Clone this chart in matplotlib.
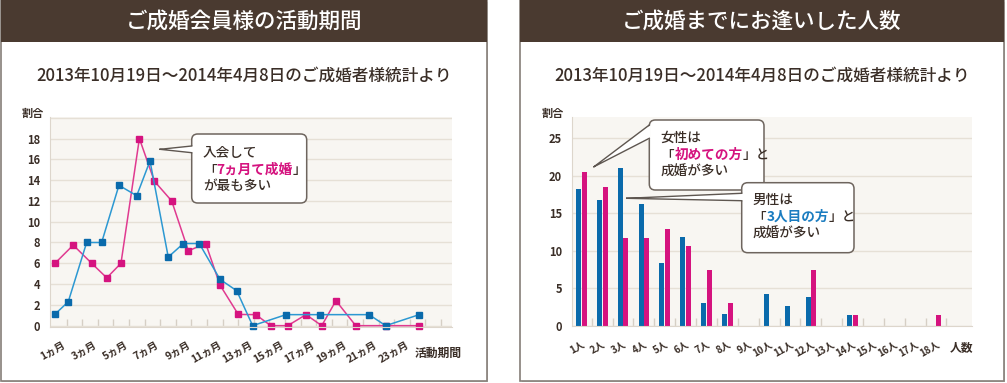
import matplotlib
matplotlib.use("Agg")
import matplotlib.pyplot as plt
from matplotlib.patches import Rectangle, FancyBboxPatch, Polygon
import numpy as np

plt.rcParams['font.family'] = ['Noto Sans CJK JP', 'DejaVu Sans']

# --- data (left: months, right: number of people met) ---
pink_x = [0.55, 1.72, 2.9, 3.87, 4.78, 5.96, 6.92, 8.03, 9.1, 10.21, 11.13, 12.3,
          13.42, 14.38, 15.47, 16.64, 17.65, 18.56, 19.83, 21.75, 23.9]
pink_y = [6.0, 7.75, 6.0, 4.6, 6.0, 18.0, 13.9, 12.0, 7.2, 7.9, 3.9, 1.08,
          1.06, 0, 0, 1.06, 0, 2.4, 0, 0, 0]
blue_x = [0.55, 1.4, 2.58, 3.54, 4.65, 5.79, 6.64, 7.81, 8.78, 9.8, 11.13, 12.2,
          13.22, 15.36, 17.54, 20.68, 21.75, 23.9]
blue_y = [1.1, 2.3, 8.0, 8.0, 13.5, 12.5, 15.85, 6.6, 7.9, 7.9, 4.45, 3.36,
          0, 1.06, 1.06, 1.06, 0, 1.06]
month_labels = [f"{m}ヵ月" for m in range(1, 24, 2)]

people = [f"{n}人" for n in range(1, 19)]
men = [18.3, 16.8, 21.1, 16.3, 8.4, 11.8, 3.0, 1.6, 0, 4.2, 2.6, 3.8, 0, 1.5, 0, 0, 0, 0]
women = [20.5, 18.5, 11.7, 11.7, 12.9, 10.6, 7.5, 3.0, 0, 0, 0, 7.4, 0, 1.5, 0, 0, 0, 1.5]

titles = ["ご成婚会員様の活動期間", "ご成婚までにお逢いした人数"]
subtitle = "2013年10月19日～2014年4月8日のご成婚者様統計より"

BROWN = '#4a3a30'
TXT = '#3a2e27'
BLUE = '#0a6aab'
BLUE_L = '#2c98d2'
PINK = '#d5137f'
PINK_L = '#e03a90'
PLOTBG = '#f8f6f2'
GRID = '#e6e0d6'

W, H = 1007, 383
def rect(x0, y0, x1, y1):
    return [x0 / W, 1 - y1 / H, (x1 - x0) / W, (y1 - y0) / H]

fig = plt.figure(figsize=(W / 100, H / 100), dpi=100)
bg = fig.add_axes([0, 0, 1, 1])
bg.set_xlim(0, W); bg.set_ylim(H, 0); bg.axis('off')

# panels
for x0, x1, t in [(0.8, 486.5, titles[0]), (520, 1003.5, titles[1])]:
    bg.add_patch(Rectangle((x0 + 1.5, 1.5), x1 - x0, 380.5, fc='#c9c4bf', ec='none'))
    bg.add_patch(Rectangle((x0, 0), x1 - x0, 380.5, fc='white', ec='#857e78', lw=1.2))
    bg.add_patch(Rectangle((x0, 0), x1 - x0, 41.7, fc=BROWN, ec='none'))
    cx = (x0 + x1) / 2
    bg.text(cx, 22, t, color='white', fontsize=15.5, fontweight='medium', ha='center', va='center')
    bg.text(cx, 76, subtitle, color=TXT, fontsize=12, fontweight='medium', ha='center', va='center')

bg.text(22, 113, "割合", color=TXT, fontsize=8, fontweight='bold', va='center')
bg.text(542, 113, "割合", color=TXT, fontsize=8, fontweight='bold', va='center')
bg.text(415, 353, "活動期間", color=TXT, fontsize=8.5, fontweight='bold', va='center')
bg.text(950, 348, "人数", color=TXT, fontsize=8.5, fontweight='bold', va='center')

for lx, ly in [(361, 143), (885, 143)]:
    bg.plot(lx, ly, marker='s', ms=5, color=BLUE, ls='none')
    bg.text(lx + 10, ly, "男性割合", color=TXT, fontsize=9.5, fontweight='medium', va='center')
    bg.plot(lx, ly + 19.5, marker='s', ms=5, color=PINK, ls='none')
    bg.text(lx + 10, ly + 19.5, "女性割合", color=TXT, fontsize=9.5, fontweight='medium', va='center')

def style(ax):
    ax.set_facecolor(PLOTBG)
    for s in ['top', 'right']:
        ax.spines[s].set_visible(False)
    for s in ['left', 'bottom']:
        ax.spines[s].set_color('#ddd6cc')
    ax.yaxis.grid(True, color=GRID, lw=1)
    ax.set_axisbelow(True)
    ax.tick_params(which='major', length=0, colors=TXT)
    ax.tick_params(which='minor', direction='in', length=6, color='#d6cfc5', width=1)
    ax.tick_params(axis='y', pad=7, labelsize=8)

# left line chart
ax1 = fig.add_axes(rect(50, 116.7, 452, 326.7))
style(ax1)
ax1.plot(pink_x, pink_y, color=PINK_L, lw=1.1, marker='s', ms=5, mfc=PINK, mec=PINK, clip_on=False)
ax1.plot(blue_x, blue_y, color=BLUE_L, lw=1.1, marker='s', ms=5, mfc=BLUE, mec=BLUE, clip_on=False)
ax1.set_xlim(0.23, 26.0)
ax1.set_ylim(-0.1, 20.1)
ax1.set_yticks(range(0, 21, 2), [str(v) for v in range(0, 19, 2)] + [""])
ax1.set_xticks(range(1, 24, 2), month_labels, rotation=30, ha='right', rotation_mode='anchor')
ax1.set_xticks(np.arange(1.3, 25.4, 1), minor=True)
ax1.tick_params(axis='x', which='major', pad=9, labelsize=7.5)
for lab in ax1.get_xticklabels() + ax1.get_yticklabels():
    lab.set_fontweight('bold')

# right bar chart
ax2 = fig.add_axes(rect(571.7, 116.7, 971.7, 326))
style(ax2)
pos = np.arange(len(people))
ax2.bar(pos - 0.134, men, width=0.24, color=BLUE)
ax2.bar(pos + 0.139, women, width=0.24, color=PINK)
ax2.set_xlim(-0.46, 18.71)
ax2.set_ylim(0, 27.9)
ax2.set_yticks(range(0, 26, 5))
ax2.set_xticks(pos, people, rotation=30, ha='right', rotation_mode='anchor')
ax2.set_xticks(pos + 0.5, minor=True)
ax2.tick_params(axis='x', which='major', pad=9, labelsize=7)
for lab in ax2.get_xticklabels() + ax2.get_yticklabels():
    lab.set_fontweight('bold')

# callouts
ov = fig.add_axes([0, 0, 1, 1])
ov.set_xlim(0, W); ov.set_ylim(H, 0); ov.axis('off')
r = fig.canvas.get_renderer()

def rich(x, y, parts, z, size=9.8):
    for s, c, w in parts:
        t = ov.text(x, y, s, color=c, fontsize=size, fontweight=w, va='center', ha='left', zorder=z)
        x += t.get_window_extent(renderer=r).width

def callout(x0, y0, x1, y1, tip, b0, b1, z):
    ov.add_patch(FancyBboxPatch((x0, y0), x1 - x0, y1 - y0,
                                boxstyle='round,pad=0,rounding_size=6',
                                fc='white', ec='#6e655e', lw=1.1, zorder=z))
    ov.add_patch(Polygon([tip, (x0 + 1.5, b0), (x0 + 1.5, b1)], closed=True,
                         fc='white', ec='none', zorder=z + 0.1))
    ov.plot([tip[0], x0, None, tip[0], x0], [tip[1], b0, None, tip[1], b1],
            color='#5e5650', lw=1, zorder=z + 0.2)

M = 'medium'
callout(191.7, 134, 306.7, 203, (160, 149.3), 146, 152.7, 5)
rich(203, 153, [("入会して", TXT, M)], 5.5)
rich(203, 170, [("「", TXT, M), ("7ヵ月て成婚", PINK, 'bold'), ("」", TXT, M)], 5.5)
rich(203, 186, [("が最も多い", TXT, M)], 5.5)

callout(649.3, 120, 764, 190, (594, 166.7), 125, 138.3, 5)
rich(660.7, 138, [("女性は", TXT, M)], 5.5)
rich(660.7, 155, [("「", TXT, M), ("初めての方", PINK, 'bold'), ("」と", TXT, M)], 5.5)
rich(660.7, 172, [("成婚が多い", TXT, M)], 5.5)

callout(741.7, 182.7, 854, 252.7, (626.7, 198.3), 193.3, 200.7, 11)
rich(752.7, 200, [("男性は", TXT, M)], 11.5)
rich(752.7, 217, [("「", TXT, M), ("3人目の方", '#1a7cc0', 'bold'), ("」と", TXT, M)], 11.5)
rich(752.7, 234, [("成婚が多い", TXT, M)], 11.5)

fig.savefig("out.png", dpi=100)
